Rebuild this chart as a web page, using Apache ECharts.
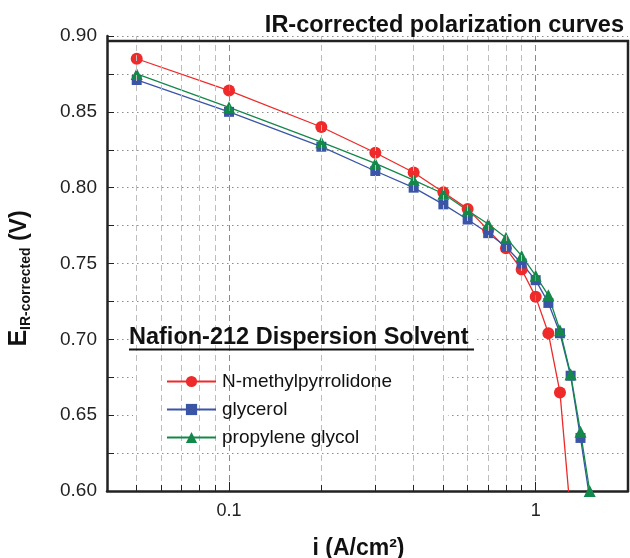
<!DOCTYPE html>
<html>
<head>
<meta charset="utf-8">
<script src="https://cdn.jsdelivr.net/npm/echarts@6/dist/echarts.min.js"></script>
<style>
html,body{margin:0;padding:0;background:#fff;}
#chart{width:630px;height:558px;}
</style>
</head>
<body>
<div id="chart"></div>
<script>
// ---- data ----
const currentNMP = [0.05, 0.1, 0.2, 0.3, 0.4, 0.5, 0.6, 0.7, 0.8, 0.9, 1.0, 1.1, 1.2, 1.3];
const valuesNMP = [0.885, 0.864, 0.840, 0.823, 0.810, 0.797, 0.786, 0.772, 0.760, 0.746, 0.728, 0.704, 0.665, 0.584];
const currentGly = [0.05, 0.1, 0.2, 0.3, 0.4, 0.5, 0.6, 0.7, 0.8, 0.9, 1.0, 1.1, 1.2, 1.3, 1.4, 1.5];
const valuesGly = [0.871, 0.850, 0.827, 0.811, 0.800, 0.789, 0.779, 0.770, 0.761, 0.750, 0.739, 0.724, 0.704, 0.676, 0.635, 0.595];
const currentPG = [0.05, 0.1, 0.2, 0.3, 0.4, 0.5, 0.6, 0.7, 0.8, 0.9, 1.0, 1.1, 1.2, 1.3, 1.4, 1.5];
const valuesPG = [0.875, 0.853, 0.830, 0.816, 0.805, 0.796, 0.785, 0.776, 0.767, 0.755, 0.742, 0.729, 0.706, 0.677, 0.639, 0.600];
const seriesNames = ['N-methylpyrrolidone', 'glycerol', 'propylene glycol'];
const gridX = [0.05, 0.06, 0.07, 0.08, 0.09, 0.1, 0.2, 0.3, 0.4, 0.5, 0.6, 0.7, 0.8, 0.9, 1];
const xLabelValues = [0.1, 1];
const yMin = 0.60, yMax = 0.90, yStep = 0.05;
const xMin = 0.04, xMax = 2;

const zip = (xs, ys) => xs.map((x, i) => [x, ys[i]]);

const chart = echarts.init(document.getElementById('chart'), null, {renderer: 'canvas'});
const mainFont = 'Liberation Sans, Arial, sans-serif';

const isMajor = v => (v === 0.1 || v === 1);
const vGrid = gridX.map(v => ({
  xAxis: v,
  lineStyle: {color: isMajor(v) ? '#8a8a8a' : '#bdbdbd', type: [6, 4], width: 1}
}));
const vTicks = gridX.map(v => [
  {coord: [v, yMin]}, {coord: [v, yMin + (isMajor(v) ? 0.006 : 0.004)]}
]);

const option = {
  animation: false,
  backgroundColor: '#fff',
  title: {
    text: 'IR-corrected polarization curves',
    right: 1, top: 9,
    textStyle: {fontFamily: mainFont, fontWeight: 'bold', fontSize: 23.5, color: '#111'}
  },
  grid: {left: 107, right: 2, top: 36, bottom: 67, show: false, containLabel: false, outerBoundsMode: 'none'},
  legend: {
    data: seriesNames,
    orient: 'vertical',
    left: 161, top: 367,
    itemWidth: 49, itemHeight: 14, itemGap: 9,
    textStyle: {fontFamily: mainFont, fontSize: 19, color: '#111', padding: [0, 0, 0, 1]},
    z: 6
  },
  graphic: [
    {type: 'rect', shape: {x: 133, y: 322, width: 315, height: 131}, style: {fill: '#fff'}, z: 2, silent: true},
    {type: 'rect', shape: {x: 129, y: 322, width: 345, height: 33}, style: {fill: '#fff'}, z: 2, silent: true},
    {type: 'text', left: 129, top: 326, style: {text: 'Nafion-212 Dispersion Solvent', font: 'bold 23.5px ' + mainFont, fill: '#111'}, z: 6},
    {type: 'line', shape: {x1: 129, y1: 349.5, x2: 474, y2: 349.5}, style: {stroke: '#111', lineWidth: 2}, z: 6},
    {type: 'polyline', shape: {points: [[107, 41], [628, 41], [628, 491]]}, style: {stroke: '#222', lineWidth: 2.5, fill: null}, z: 6, silent: true}
  ],
  xAxis: {
    type: 'log', logBase: 10, min: xMin, max: xMax,
    name: 'i (A/cm²)', nameLocation: 'middle', nameGap: 46,
    nameTextStyle: {fontFamily: mainFont, fontWeight: 'bold', fontSize: 23, color: '#111', padding: [0, 18, 0, 0]},
    axisLine: {show: true, lineStyle: {color: '#222', width: 2.5}},
    axisTick: {show: false},
    splitLine: {show: false},
    axisLabel: {
      fontFamily: mainFont, fontSize: 18, color: '#222', margin: 11,
      showMinLabel: false, showMaxLabel: false,
      formatter: v => {
        const r = xLabelValues.find(t => Math.abs(Math.log10(v) - Math.log10(t)) < 1e-6);
        return r === undefined ? '' : String(r);
      }
    }
  },
  yAxis: {
    type: 'value', min: yMin, max: yMax, interval: yStep,
    name: '{e|E}{s|IR-corrected}{v| (V)}', nameLocation: 'middle', nameGap: 74, nameRotate: 90,
    nameTextStyle: {
      padding: [0, 30, 0, 0],
      rich: {
        e: {fontFamily: mainFont, fontWeight: 'bold', fontSize: 25, color: '#111'},
        s: {fontFamily: mainFont, fontWeight: 'bold', fontSize: 14, color: '#111', padding: [13, 0, 0, 0]},
        v: {fontFamily: mainFont, fontWeight: 'bold', fontSize: 23, color: '#111'}
      }
    },
    axisLine: {show: true, lineStyle: {color: '#222', width: 2.5}},
    axisTick: {show: true, inside: true, length: 7, lineStyle: {color: '#222', width: 1}},
    minorTick: {show: true, splitNumber: 2, length: 7, lineStyle: {color: '#222', width: 1}},
    splitLine: {show: true, lineStyle: {color: '#8c8c8c', type: [1.5, 3.5], width: 1}},
    minorSplitLine: {show: true, lineStyle: {color: '#8c8c8c', type: [1.5, 3.5], width: 1}},
    axisLabel: {fontFamily: mainFont, fontSize: 19, color: '#222', margin: 10, formatter: v => v.toFixed(2)}
  },
  series: [
    {
      name: '_grid', type: 'line', data: [], z: 1, silent: true,
      markLine: {silent: true, symbol: 'none', label: {show: false}, animation: false, data: vGrid}
    },
    {
      name: '_ticks', type: 'line', data: [], z: 4, silent: true,
      markLine: {silent: true, symbol: 'none', label: {show: false}, animation: false,
        lineStyle: {color: '#222', type: 'solid', width: 1}, data: vTicks}
    },
    {
      name: seriesNames[0], type: 'line', data: zip(currentNMP, valuesNMP), z: 3,
      symbol: 'circle', symbolSize: 12, clip: true,
      itemStyle: {color: '#ee2a2a'}, lineStyle: {color: '#ee2a2a', width: 1.3}
    },
    {
      name: seriesNames[1], type: 'line', data: zip(currentGly, valuesGly), z: 3,
      symbol: 'rect', symbolSize: 10, clip: true,
      itemStyle: {color: '#3a55a6'}, lineStyle: {color: '#3a55a6', width: 1.3}
    },
    {
      name: seriesNames[2], type: 'line', data: zip(currentPG, valuesPG), z: 3,
      symbol: 'triangle', symbolSize: 12, clip: true,
      itemStyle: {color: '#13884a'}, lineStyle: {color: '#13884a', width: 1.3}
    }
  ]
};
chart.setOption(option);
</script>
</body>
</html>
